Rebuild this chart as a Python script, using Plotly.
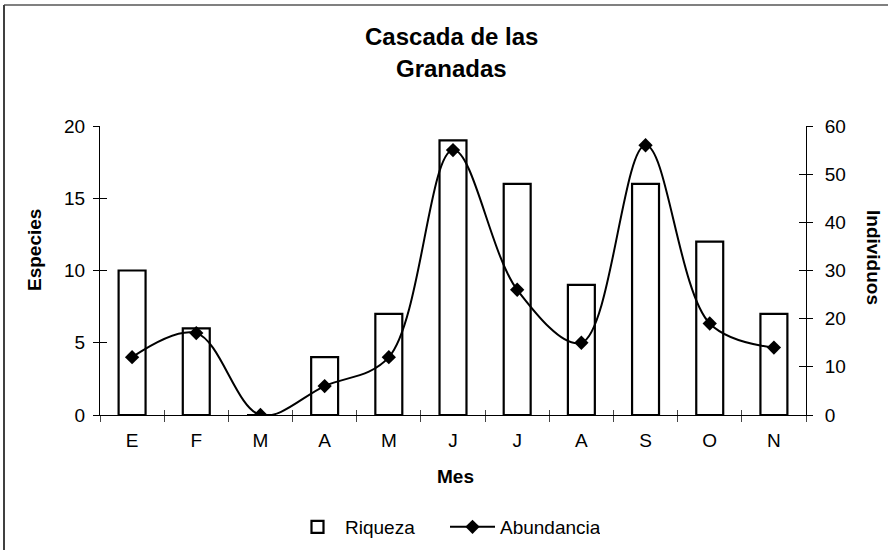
import plotly.graph_objects as go

# Monthly survey data
meses = ["E", "F", "M", "A", "M", "J", "J", "A", "S", "O", "N"]
riqueza = [10, 6, 0, 4, 7, 19, 16, 9, 16, 12, 7]          # especies
abundancia = [12, 17, 0, 6, 12, 55, 26, 15, 56, 19, 14]   # individuos

# categorical positions (months repeat, so use indexes and label them)
pos = list(range(len(meses)))

FONT = "Liberation Sans, Arial, sans-serif"
TICK_SIZE = 19

fig = go.Figure()

fig.add_trace(go.Bar(
    x=pos, y=riqueza, name="Riqueza",
    marker=dict(color="white", line=dict(color="black", width=2.2)),
    width=0.42, xaxis="x", yaxis="y",
))

fig.add_trace(go.Scatter(
    x=pos, y=abundancia, name="Abundancia",
    mode="lines+markers",
    line=dict(color="black", width=2, shape="spline", smoothing=1),
    marker=dict(symbol="diamond", size=11, color="black"),
    xaxis="x", yaxis="y2",
))

axis_common = dict(showgrid=False, zeroline=False, linecolor="black", linewidth=1,
                   tickcolor="black", ticklen=6, tickwidth=1,
                   tickfont=dict(family=FONT, size=TICK_SIZE, color="black"))

boundaries = [i - 0.5 for i in range(len(meses) + 1)]

fig.update_layout(
    width=888, height=550,
    margin=dict(l=100, r=82, t=126, b=135, autoexpand=False),
    paper_bgcolor="white", plot_bgcolor="white",
    font=dict(family=FONT, color="black"),
    barmode="overlay",
    xaxis=dict(**axis_common, range=[-0.5, 10.5], tickmode="array",
               tickvals=pos, ticktext=meses, ticks="", showline=True,
               ticklabelstandoff=8),
    # cross ticks on the category boundaries
    xaxis2=dict(overlaying="x", range=[-0.5, 10.5], tickmode="array",
                tickvals=boundaries, ticks="outside", ticklen=6, tickcolor="#444",
                showticklabels=False, showgrid=False, zeroline=False,
                showline=False, anchor="y"),
    xaxis3=dict(overlaying="x", range=[-0.5, 10.5], tickmode="array",
                tickvals=boundaries, ticks="inside", ticklen=5, tickcolor="#444",
                showticklabels=False, showgrid=False, zeroline=False,
                showline=False, anchor="y"),
    yaxis=dict(**axis_common, range=[0, 20], tickvals=[0, 5, 10, 15, 20],
               ticks="outside", showline=True, ticklabelstandoff=4),
    yaxis2=dict(**axis_common, range=[0, 60], tickvals=[0, 10, 20, 30, 40, 50, 60],
                ticks="outside", showline=True, overlaying="y", side="right",
                ticklabelstandoff=8),
    yaxis3=dict(overlaying="y", range=[0, 20], tickvals=[0, 5, 10, 15, 20],
                ticks="inside", ticklen=7, tickcolor="black", showticklabels=False,
                showgrid=False, zeroline=False, showline=False, side="left"),
    yaxis4=dict(overlaying="y", range=[0, 60], tickvals=[0, 10, 20, 30, 40, 50, 60],
                ticks="inside", ticklen=7, tickcolor="black", showticklabels=False,
                showgrid=False, zeroline=False, showline=False, side="right"),
    legend=dict(orientation="h", x=(445 - 100) / 706, y=(415 - 527) / 289,
                xanchor="center", yanchor="middle",
                font=dict(family=FONT, size=19, color="black"), itemwidth=45,
                entrywidth=95, traceorder="normal"),
    showlegend=True,
)

# invisible traces so the extra tick axes are drawn
for xa, ya in [("x2", "y"), ("x3", "y"), ("x", "y3"), ("x", "y4")]:
    fig.add_trace(go.Scatter(x=[None], y=[None], xaxis=xa, yaxis=ya,
                             showlegend=False, hoverinfo="skip"))

ann = [
    dict(text="<b>Cascada de las</b>", x=(451 - 100) / 706, y=(415 - 37) / 289, size=24),
    dict(text="<b>Granadas</b>", x=(451 - 100) / 706, y=(415 - 68) / 289, size=24),
    dict(text="<b>Mes</b>", x=(455 - 100) / 706, y=(415 - 476) / 289, size=19),
]
for a in ann:
    fig.add_annotation(text=a["text"], x=a["x"], y=a["y"], xref="paper", yref="paper",
                       showarrow=False, xanchor="center", yanchor="middle",
                       font=dict(family=FONT, size=a["size"], color="black"))

fig.add_annotation(text="<b>Especies</b>", x=(34 - 100) / 706, y=(415 - 250) / 289,
                   xref="paper", yref="paper", showarrow=False, textangle=-90,
                   xanchor="center", yanchor="middle",
                   font=dict(family=FONT, size=19, color="black"))
fig.add_annotation(text="<b>Individuos</b>", x=(874 - 100) / 706, y=(415 - 257) / 289,
                   xref="paper", yref="paper", showarrow=False, textangle=90,
                   xanchor="center", yanchor="middle",
                   font=dict(family=FONT, size=19, color="black"))

# chart frame (top and left edges)
fig.add_shape(type="line", xref="paper", yref="paper",
              x0=(4 - 100) / 706, x1=(900 - 100) / 706,
              y0=(415 - 5) / 289, y1=(415 - 5) / 289,
              line=dict(color="#808080", width=2))
fig.add_shape(type="line", xref="paper", yref="paper",
              x0=(4 - 100) / 706, x1=(4 - 100) / 706,
              y0=(415 - 5) / 289, y1=(415 - 560) / 289,
              line=dict(color="#404040", width=2))

fig.write_html("out.html")
